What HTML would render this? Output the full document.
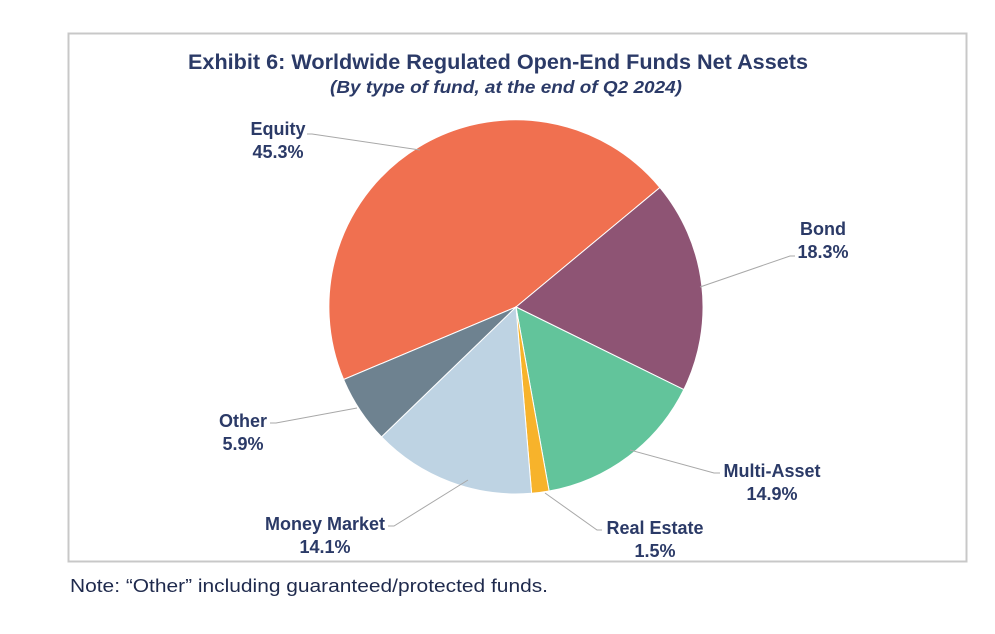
<!DOCTYPE html>
<html><head><meta charset="utf-8"><style>
body{margin:0;background:#fff;}
svg{display:block;font-family:"Liberation Sans",Arial,sans-serif;}
</style></head><body>
<svg width="995" height="634" viewBox="0 0 995 634">
<rect x="68.5" y="33.5" width="898" height="528" fill="#fff" stroke="#c8c8c8" stroke-width="2"/>
<text x="498" y="69" text-anchor="middle" font-size="21" font-weight="bold" fill="#2b3a67" textLength="620" lengthAdjust="spacingAndGlyphs">Exhibit 6: Worldwide Regulated Open-End Funds Net Assets</text>
<text x="506" y="93" text-anchor="middle" font-size="17.5" font-weight="bold" font-style="italic" fill="#2b3a67" textLength="352" lengthAdjust="spacingAndGlyphs">(By type of fund, at the end of Q2 2024)</text>
<g stroke="#fff" stroke-width="1">
<path d="M516,307 L343.6,379.5 A187,187 0 0 1 659.9,187.5 Z" fill="#f07050"/>
<path d="M516,307 L659.9,187.5 A187,187 0 0 1 683.8,389.6 Z" fill="#8e5474"/>
<path d="M516,307 L683.8,389.6 A187,187 0 0 1 549.1,491 Z" fill="#62c49b"/>
<path d="M516,307 L549.1,491 A187,187 0 0 1 531.6,493.3 Z" fill="#f7b32b"/>
<path d="M516,307 L531.6,493.3 A187,187 0 0 1 381.5,436.9 Z" fill="#bed3e3"/>
<path d="M516,307 L381.5,436.9 A187,187 0 0 1 343.6,379.5 Z" fill="#6e8290"/>
</g>
<g stroke="#a8a8a8" stroke-width="1" fill="none">
<polyline points="307,134 312,134 420,150"/>
<polyline points="795,256 790,256 700,287"/>
<polyline points="720,473 714,473 630,450"/>
<polyline points="602,530 597,530 545,493"/>
<polyline points="388,526 394,526 468,480"/>
<polyline points="270,423 276,423 357,408"/>
</g>
<g font-size="18" font-weight="bold" fill="#2b3a67" text-anchor="middle">
<text x="278" y="135">Equity</text><text x="278" y="158">45.3%</text>
<text x="823" y="235">Bond</text><text x="823" y="258">18.3%</text>
<text x="772" y="477">Multi-Asset</text><text x="772" y="500">14.9%</text>
<text x="655" y="534">Real Estate</text><text x="655" y="557">1.5%</text>
<text x="325" y="530">Money Market</text><text x="325" y="553">14.1%</text>
<text x="243" y="427">Other</text><text x="243" y="450">5.9%</text>
</g>
<text x="70" y="592" font-size="18.5" fill="#1f2a4d" textLength="478" lengthAdjust="spacingAndGlyphs">Note: “Other” including guaranteed/protected funds.</text>
</svg>
</body></html>
